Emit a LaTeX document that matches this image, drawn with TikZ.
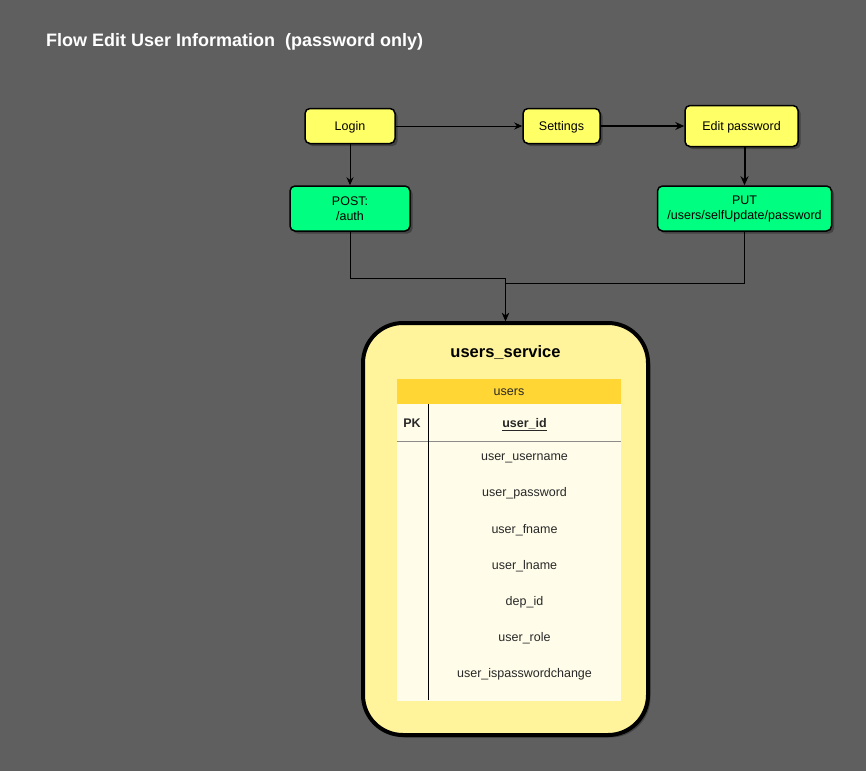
\documentclass[tikz,border=0pt]{standalone}
\usepackage{fontspec}
\setmainfont{Liberation Sans}
\usetikzlibrary{arrows.meta,shadows,positioning}
\definecolor{bggray}{RGB}{95,95,95}
\definecolor{stepyellow}{RGB}{255,255,102}
\definecolor{apigreen}{RGB}{0,255,128}
\definecolor{svcyellow}{RGB}{255,244,156}
\definecolor{headyellow}{RGB}{255,214,51}
\definecolor{rowcream}{RGB}{255,253,234}
\definecolor{fieldtext}{RGB}{40,40,40}
\tikzset{
  boxshadow/.style={drop shadow={shadow xshift=2.5pt,shadow yshift=-2.5pt,opacity=0.3,fill=black}},
  stepbox/.style={draw=black, line width=1.5pt, rounded corners=5pt, fill=stepyellow,
    inner sep=0pt, font=\fontsize{12.5}{15}\selectfont, boxshadow},
  apibox/.style={stepbox, fill=apigreen, align=center},
  field/.style={font=\fontsize{12.5}{15}\selectfont, text=fieldtext, inner sep=0pt,
    text height=9pt, text depth=1pt},
  thinarrow/.style={draw=black, line width=1pt, -{Stealth[length=8pt,width=7pt]}},
  thickarrow/.style={draw=black, line width=2pt, -{Stealth[length=9pt,width=8pt]}}
}
\begin{document}
\begin{tikzpicture}[x=1pt,y=-1pt]
    \fill[bggray] (0,0) rectangle (866,771);
    \useasboundingbox (0,0) rectangle (866,771);

    \node[anchor=west, inner sep=0pt, text=white, font=\bfseries\fontsize{18}{21}\selectfont] (title) at (46,42)
        {Flow Edit User Information\ \ (password only)};

    % steps
    \node[stepbox, text height=9pt, text depth=1pt, minimum width=90pt, minimum height=35pt] (login) at (350,126) {Login};
    \node[stepbox, text height=9pt, text depth=1pt, minimum width=77pt, minimum height=35pt] (settings) at (561.5,126) {Settings};
    \node[stepbox, text height=9pt, text depth=1pt, minimum width=113pt, minimum height=41pt] (editpw) at (741.5,126) {Edit password};

    % api calls
    \node[apibox, minimum width=120pt, minimum height=45pt] (post) at (350,208.5) {POST:\\/auth};
    \node[apibox, minimum width=174pt, minimum height=45pt] (put) at (744.5,208.5) {PUT\\/users/selfUpdate/password};

    % service container
    \node[draw=black, line width=4pt, rounded corners=40pt, fill=svcyellow, boxshadow,
        minimum width=285pt, minimum height=412pt] (svc) at (505.5,529) {};
    \node[font=\bfseries\fontsize{16.5}{19}\selectfont] (svcname) at (505.5,353) {users\_service};

    % users table
    \node[fill=rowcream, minimum width=224pt, minimum height=297pt, inner sep=0pt] (tbody) at (509,552.5) {};
    \node[field, fill=headyellow, minimum width=224pt, minimum height=25pt] (thead) at (509,391.5) {users};
    \draw[black!45, line width=1pt] (397,441) -- (621,441);
    \draw[black, line width=1pt] (428,404) -- (428,700);

    \node[field, font=\bfseries\fontsize{12.5}{15}\selectfont] (pk) at (412,423) {PK};
    \node[field, font=\bfseries\fontsize{12.5}{15}\selectfont] (userid) at (524.5,423) {\underline{user\_id}};
    \node[field] (f1) at (524.5,456) {user\_username};
    \node[field] (f2) at (524.5,492) {user\_password};
    \node[field] (f3) at (524.5,529) {user\_fname};
    \node[field] (f4) at (524.5,565) {user\_lname};
    \node[field] (f5) at (524.5,601) {dep\_id};
    \node[field] (f6) at (524.5,637) {user\_role};
    \node[field] (f7) at (524.5,673) {user\_ispasswordchange};

    % connectors
    \draw[thinarrow] (login) -- (settings);
    \draw[thickarrow] (settings) -- (editpw);
    \draw[thinarrow] (login) -- (post);
    \draw[thickarrow] (editpw.south -| put.north) -- (put.north);
    \draw[thinarrow] (post.south) -- ++(0,47) -| (svc.north);
    \draw[thinarrow] (put.south) -- ++(0,52) -| (svc.north);
\end{tikzpicture}
\end{document}
